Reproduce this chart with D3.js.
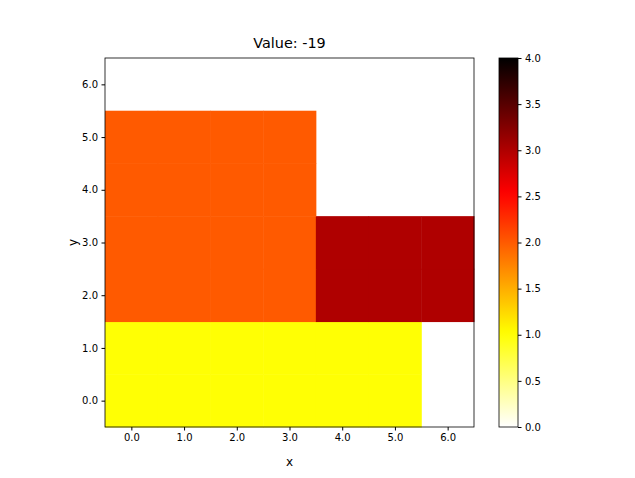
<!DOCTYPE html>
<html><head><meta charset="utf-8">
<script src="https://cdn.jsdelivr.net/npm/d3@7"></script>
<style>body{margin:0;background:#fff}text{font-family:"DejaVu Sans",sans-serif}</style>
</head><body><svg id="c" width="635" height="478"></svg>
<script>
const title = "Value: -19";
// grid[y][x], y from 0 (bottom) to 6
const grid = [
  [1,1,1,1,1,1,null],
  [1,1,1,1,1,1,null],
  [2,2,2,2,3,3,3],
  [2,2,2,2,3,3,3],
  [2,2,2,2,null,null,null],
  [2,2,2,2,null,null,null],
  [null,null,null,null,null,null,null]
];
const axisTicks = [0,1,2,3,4,5,6];
const cbTicks = [0,0.5,1,1.5,2,2.5,3,3.5,4];

function hot(t){
  const r=Math.min(1,t/0.365079), g=Math.max(0,Math.min(1,(t-0.365079)/(0.746032-0.365079))), b=Math.max(0,Math.min(1,(t-0.746032)/(1-0.746032)));
  return d3.rgb(r*255,g*255,b*255).toString();
}
const color = d3.scaleSequential(t=>hot(1-t)).domain([0,4]);

const svg=d3.select("#c");
const L=105,R=474,T=58,B=427;
const x=d3.scaleLinear().domain([-0.5,6.5]).range([L,R]);
const y=d3.scaleLinear().domain([-0.5,6.5]).range([B,T]);
const cells=[];
grid.forEach((row,j)=>row.forEach((v,i)=>{if(v!=null)cells.push({i,j,v});}));
svg.selectAll("rect.cell").data(cells).enter().append("rect")
  .attr("x",d=>x(d.i-0.5)).attr("y",d=>y(d.j+0.5))
  .attr("width",d=>x(d.i+0.5)-x(d.i-0.5)+0.5).attr("height",d=>y(d.j-0.5)-y(d.j+0.5)+0.5)
  .attr("fill",d=>color(d.v));
svg.append("rect").attr("x",L).attr("y",T).attr("width",R-L).attr("height",B-T).attr("fill","none").attr("stroke","#000").attr("stroke-width",0.8);
const fmt=g=>g.selectAll("text").attr("font-size",10*1.25*0.8+"px").attr("fill","#000");
svg.append("g").attr("transform",`translate(0,${B})`).call(d3.axisBottom(x).tickValues(axisTicks).tickSize(3.5).tickPadding(3.5)).call(g=>g.select(".domain").remove()).call(fmt);
svg.append("g").attr("transform",`translate(${L},0)`).call(d3.axisLeft(y).tickValues(axisTicks).tickSize(3.5).tickPadding(3.5)).call(g=>g.select(".domain").remove()).call(fmt);
svg.append("text").attr("x",(L+R)/2).attr("y",466).attr("text-anchor","middle").attr("font-size","12px").text("x");
svg.append("text").attr("transform",`translate(77,${(T+B)/2}) rotate(-90)`).attr("text-anchor","middle").attr("font-size","12px").text("y");
svg.append("text").attr("x",(L+R)/2).attr("y",48).attr("text-anchor","middle").attr("font-size","14.4px").text(title);
// colorbar
const cbL=499,cbR=518;
const defs=svg.append("defs").append("linearGradient").attr("id","g").attr("x1",0).attr("x2",0).attr("y1",1).attr("y2",0);
d3.range(0,1.001,0.02).forEach(t=>defs.append("stop").attr("offset",t).attr("stop-color",color(t*4)));
svg.append("rect").attr("x",cbL).attr("y",T).attr("width",cbR-cbL).attr("height",B-T).attr("fill","url(#g)").attr("stroke","#000").attr("stroke-width",0.8);
const cy=d3.scaleLinear().domain([0,4]).range([B,T]);
svg.append("g").attr("transform",`translate(${cbR},0)`).call(d3.axisRight(cy).tickValues(cbTicks).tickFormat(d3.format(".1f")).tickSize(3.5).tickPadding(3.5)).call(g=>g.select(".domain").remove()).call(fmt);
</script></body></html>
